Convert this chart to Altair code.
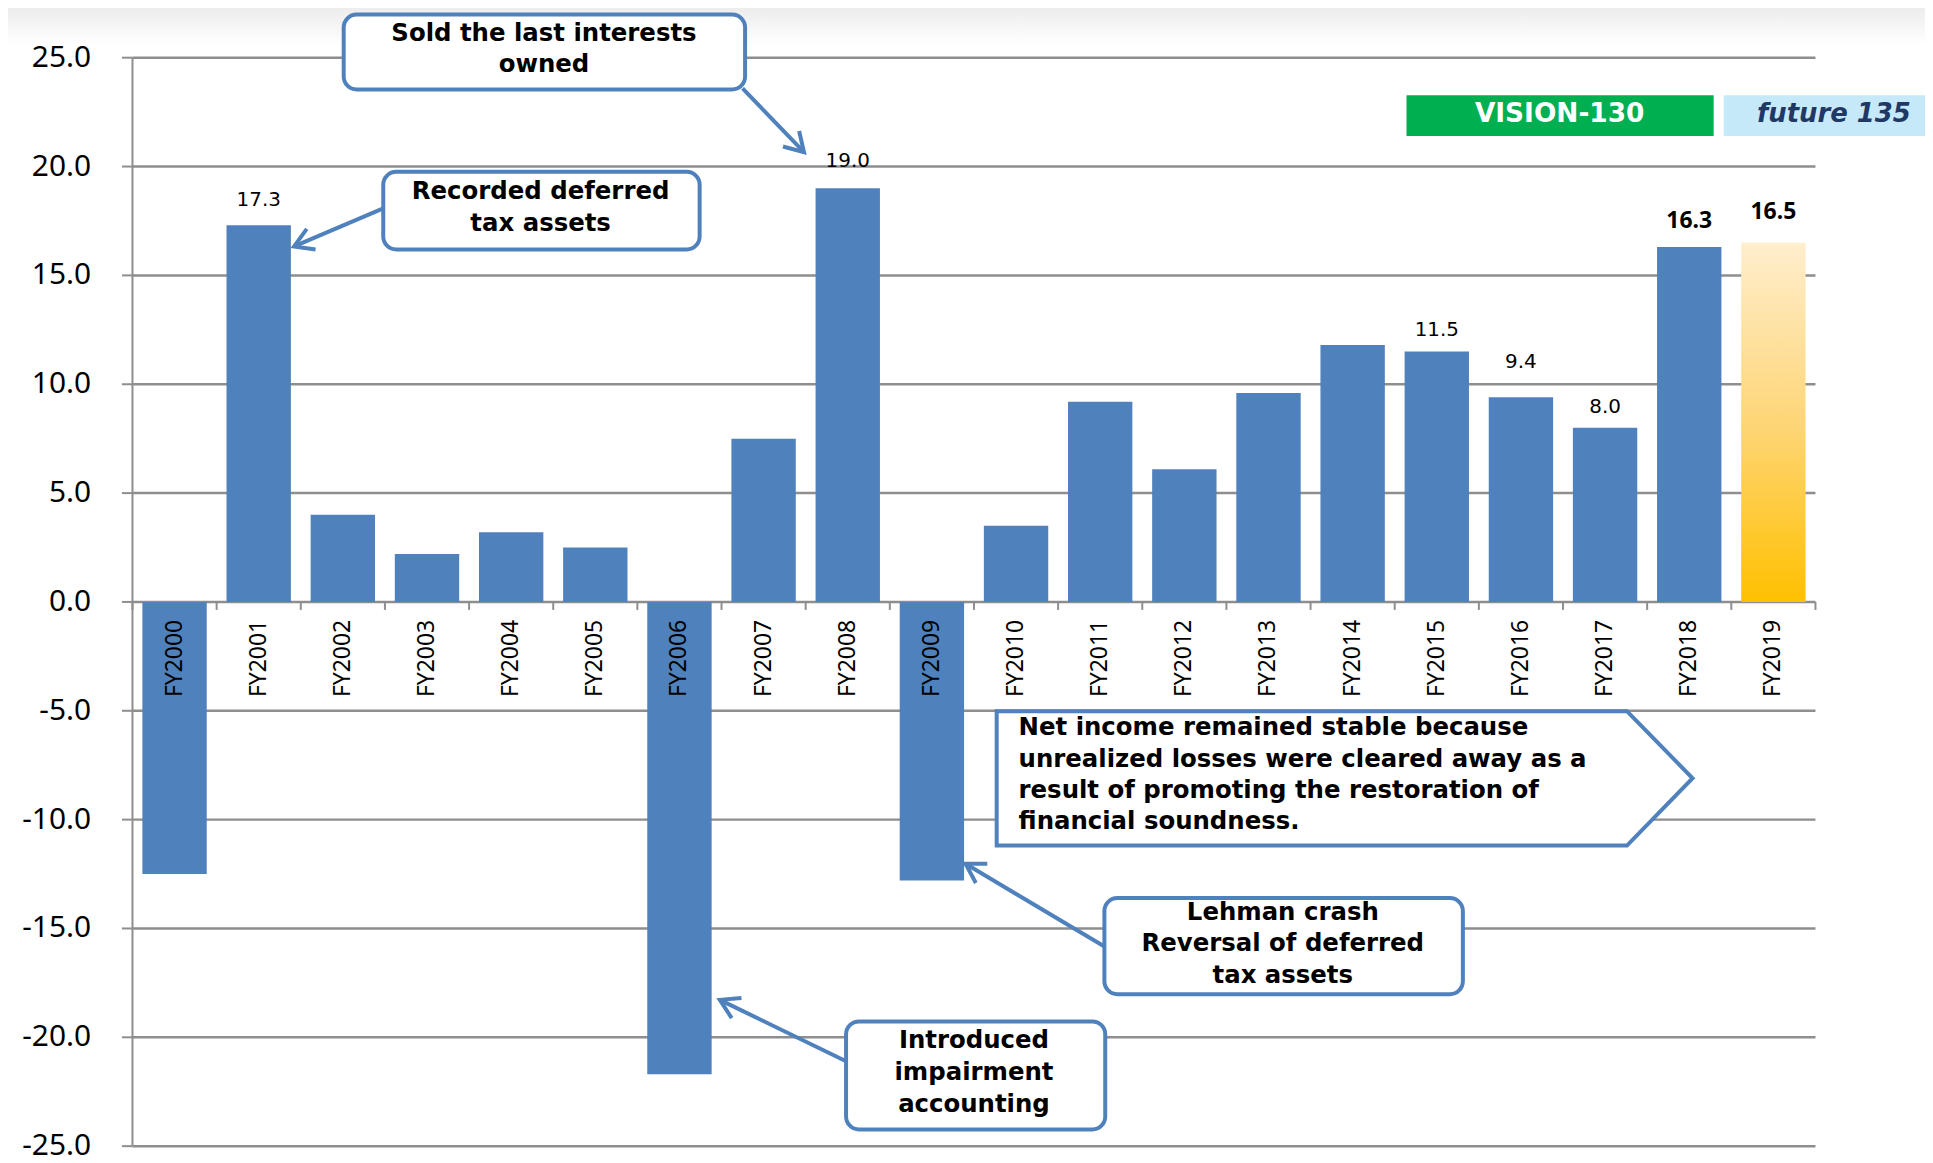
import math
import altair as alt
import pandas as pd

# ------------------------------------------------------------------ data
years = ["FY2000", "FY2001", "FY2002", "FY2003", "FY2004", "FY2005", "FY2006",
         "FY2007", "FY2008", "FY2009", "FY2010", "FY2011", "FY2012", "FY2013",
         "FY2014", "FY2015", "FY2016", "FY2017", "FY2018", "FY2019"]
net_income = [-12.5, 17.3, 4.0, 2.2, 3.2, 2.5, -21.7, 7.5, 19.0, -12.8,
              3.5, 9.2, 6.1, 9.6, 11.8, 11.5, 9.4, 8.0, 16.3, 16.5]
forecast_year = "FY2019"
labelled_years = ["FY2001", "FY2008", "FY2015", "FY2016", "FY2017"]
labelled_years_bold = ["FY2018", "FY2019"]
y_ticks = [-25, -20, -15, -10, -5, 0, 5, 10, 15, 20, 25]
y_tick_labels = ["-25.0", "-20.0", "-15.0", "-10.0", "-5.0", "0.0",
                 "5.0", "10.0", "15.0", "20.0", "25.0"]

# callout texts
txt_sold = ["Sold the last interests", "owned"]
txt_recorded = ["Recorded deferred", "tax assets"]
txt_lehman = ["Lehman crash", "Reversal of deferred", "tax assets"]
txt_impair = ["Introduced", "impairment", "accounting"]
txt_stable = ["Net income remained stable because",
              "unrealized losses were cleared away as a",
              "result of promoting the restoration of",
              "financial soundness."]
banner_texts = ["VISION-130", "future 135"]

# ------------------------------------------------------------------ layout / style
W, H = 1690, 1093
N = len(years)
STEP = W / N             # px per category
PXU = H / 50.0           # px per value unit
BAR_PAD = 0.1175         # empty fraction of a category on each side of a bar
BLUE = "#4F81BD"
GRID = "#8E8E8E"
F_COND = "Noto Sans"
F_WIDE = "DejaVu Sans"
Y_TICK_PX = 10.6
X_TICK_PX = 8

# gap (px) between bar top and its value label
label_gap = {"FY2001": 25, "FY2008": 27, "FY2015": 22, "FY2016": 35,
             "FY2017": 21, "FY2018": 26, "FY2019": 31}

# annotation geometry, in data units (x: category index units 0..20, y: value units)
rounded_boxes = [
    dict(x=2.51, x2=7.28, y=26.98, y2=23.54),
    dict(x=2.98, x2=6.74, y=19.76, y2=16.19),
    dict(x=11.55, x2=15.81, y=-13.60, y2=-18.02),
    dict(x=8.48, x2=11.56, y=-19.27, y2=-24.23),
]
pentagon = dict(x=[10.27, 17.76, 18.54], top=[-5.02, -5.02, -8.10],
                bottom=[-11.19, -11.19, -8.10])
center_text_pos = [
    (4.89, [26.07, 24.66], txt_sold),
    (4.85, [18.81, 17.34], txt_recorded),
    (13.67, [-14.27, -15.72, -17.17], txt_lehman),
    (10.00, [-20.16, -21.64, -23.12], txt_impair),
]
left_text_pos = (10.53, [-5.78, -7.26, -8.68, -10.12], txt_stable)
arrows = [  # tail x, tail y, tip x, tip y
    (7.25, 23.59, 7.98, 20.66),
    (2.98, 18.08, 1.92, 16.33),
    (11.55, -15.83, 9.90, -12.03),
    (8.48, -21.10, 6.98, -18.28),
]
banners = [
    dict(x=15.14, x2=18.79, cx=16.96, fill="#00B050"),
    dict(x=18.91, x2=21.45, cx=20.22, fill="#C6E9FA"),
]
banner_y = (23.27, 21.40, 22.43)

# ------------------------------------------------------------------ frames
bars_df = pd.DataFrame({"year": years, "i": list(range(N)), "value": net_income})
idx = {y: k for k, y in enumerate(years)}
val = dict(zip(years, net_income))


def label_frame(which):
    return pd.DataFrame({
        "x": [idx[y] + 0.5 for y in which],
        "ly": [val[y] + label_gap[y] / PXU for y in which],
        "t": [f"{val[y]:.1f}" for y in which],
    })


lab_df = label_frame(labelled_years)
labb_df = label_frame(labelled_years_bold)
ytick_df = pd.DataFrame({"v": y_ticks, "t": y_tick_labels,
                         "x0": [0] * len(y_ticks), "x1": [N] * len(y_ticks),
                         "xt": [-Y_TICK_PX / STEP] * len(y_ticks)})
xtick_df = pd.DataFrame({"x": list(range(N + 1)), "y": [0] * (N + 1),
                         "y2": [-X_TICK_PX / PXU] * (N + 1)})
xlab_df = pd.DataFrame({"x": [k + 0.5 for k in range(N)], "y": [0] * N, "t": years})
yline_df = pd.DataFrame([dict(x=0, y=y_ticks[0], y2=y_ticks[-1])])

box_df = pd.DataFrame(rounded_boxes)
pent_df = pd.DataFrame({"x": pentagon["x"], "y": pentagon["top"], "y2": pentagon["bottom"]})
ct_rows = []
for cx, ys, lines in center_text_pos:
    for yy, t in zip(ys, lines):
        ct_rows.append(dict(x=cx, y=yy, t=t))
ct_df = pd.DataFrame(ct_rows)
lt_df = pd.DataFrame([dict(x=left_text_pos[0], y=yy, t=t)
                      for yy, t in zip(left_text_pos[1], left_text_pos[2])])
arr_df = pd.DataFrame([dict(x=a[0], y=a[1], x2=a[2], y2=a[3]) for a in arrows])
head_df = pd.DataFrame([
    dict(x=a[2], y=a[3],
         ang=math.degrees(math.atan2(-(a[3] - a[1]) * PXU, (a[2] - a[0]) * STEP)) % 360)
    for a in arrows])
ban_df = pd.DataFrame([dict(x=b["x"], x2=b["x2"], y=banner_y[0], y2=banner_y[1],
                            cx=b["cx"], cy=banner_y[2], t=t, fill=b["fill"])
                       for b, t in zip(banners, banner_texts)])
strip_df = pd.DataFrame([dict(x=-1.7, x2=21.5, y=27.7, y2=25.6)])

# ------------------------------------------------------------------ scales
YS = alt.Scale(domain=[-25, 25], nice=False, zero=False)
XS = alt.Scale(domain=[0, N], nice=False, zero=False)


def ya(field):
    return alt.Y(field, scale=YS, axis=None)


def xa(field="x:Q"):
    return alt.X(field, scale=XS, axis=None)


# ------------------------------------------------------------------ axes drawn from tick data
grid = alt.Chart(ytick_df).mark_rule(color=GRID, strokeWidth=2.5).encode(
    x=xa("x0:Q"), x2="x1:Q", y=ya("v:Q"))
yticks = alt.Chart(ytick_df).mark_rule(color=GRID, strokeWidth=2).encode(
    x=xa("xt:Q"), x2="x0:Q", y=ya("v:Q"))
ylabels = alt.Chart(ytick_df).mark_text(font=F_COND, fontSize=30, color="black",
                                        align="right", baseline="middle",
                                        dx=-(Y_TICK_PX + 31)).encode(
    x=xa("x0:Q"), y=ya("v:Q"), text="t:N")
yline = alt.Chart(yline_df).mark_rule(color=GRID, strokeWidth=2).encode(
    x=xa(), y=ya("y:Q"), y2="y2:Q")
xticks = alt.Chart(xtick_df).mark_rule(color=GRID, strokeWidth=2).encode(
    x=xa(), y=ya("y:Q"), y2="y2:Q")
xlabels = alt.Chart(xlab_df).mark_text(font=F_COND, fontSize=23, color="black",
                                       angle=270, align="right", baseline="middle",
                                       dx=-(X_TICK_PX + 10)).encode(
    x=xa(), y=ya("y:Q"), text="t:N")

# ------------------------------------------------------------------ bars
bar_base = alt.Chart(bars_df).transform_calculate(
    x0=f"datum.i + {BAR_PAD}", x1=f"datum.i + {1 - BAR_PAD}", base="0")

bars = bar_base.transform_filter(alt.datum.year != forecast_year).mark_rect(
    color=BLUE).encode(x=xa("x0:Q"), x2="x1:Q", y=ya("value:Q"), y2="base:Q")

grad = alt.LinearGradient(gradient="linear", x1=0, x2=0, y1=0, y2=1,
                          stops=[alt.GradientStop(color="#FFEECD", offset=0),
                                 alt.GradientStop(color="#FED678", offset=0.5),
                                 alt.GradientStop(color="#FFC000", offset=1)])
bar19 = bar_base.transform_filter(alt.datum.year == forecast_year).mark_rect(
    color=grad).encode(x=xa("x0:Q"), x2="x1:Q", y=ya("value:Q"), y2="base:Q")

labels = alt.Chart(lab_df).mark_text(font=F_WIDE, fontSize=20, color="black",
                                     align="center", baseline="middle").encode(
    x=xa(), y=ya("ly:Q"), text="t:N")
labels_b = alt.Chart(labb_df).mark_text(font=F_COND, fontSize=23, fontWeight="bold",
                                        color="black", align="center",
                                        baseline="middle").encode(
    x=xa(), y=ya("ly:Q"), text="t:N")

# ------------------------------------------------------------------ annotations
strip = alt.Chart(strip_df).mark_rect(
    color=alt.LinearGradient(gradient="linear", x1=0, x2=0, y1=0, y2=1,
                             stops=[alt.GradientStop(color="#E8E8E8", offset=0),
                                    alt.GradientStop(color="#FFFFFF", offset=1)])
).encode(x=xa(), x2="x2:Q", y=ya("y:Q"), y2="y2:Q")

arrow_lines = alt.Chart(arr_df).mark_rule(color=BLUE, strokeWidth=4).encode(
    x=xa(), x2="x2:Q", y=ya("y:Q"), y2="y2:Q")

CHEVRON = "M -1 -0.6 L 0 0 L -1 0.6"
heads = alt.Chart(head_df).mark_point(shape=CHEVRON, filled=False, size=1400,
                                      strokeWidth=4, color=BLUE, opacity=1,
                                      strokeJoin="miter").encode(
    x=xa(), y=ya("y:Q"), angle=alt.Angle("ang:Q", scale=None))

boxes = alt.Chart(box_df).mark_rect(fill="white", stroke=BLUE, strokeWidth=4,
                                    cornerRadius=13).encode(
    x=xa(), x2="x2:Q", y=ya("y:Q"), y2="y2:Q")

pent = alt.Chart(pent_df).mark_area(fill="white", stroke=BLUE, strokeWidth=4,
                                    opacity=1, strokeJoin="miter").encode(
    x=xa(), y=ya("y:Q"), y2="y2:Q")

ctext = alt.Chart(ct_df).mark_text(font=F_WIDE, fontSize=24.5, fontWeight="bold",
                                   color="black", align="center",
                                   baseline="middle").encode(
    x=xa(), y=ya("y:Q"), text="t:N")
ltext = alt.Chart(lt_df).mark_text(font=F_WIDE, fontSize=24.5, fontWeight="bold",
                                   color="black", align="left",
                                   baseline="middle").encode(
    x=xa(), y=ya("y:Q"), text="t:N")

ban_rect = alt.Chart(ban_df).mark_rect().encode(
    x=xa(), x2="x2:Q", y=ya("y:Q"), y2="y2:Q",
    color=alt.Color("fill:N", scale=None))
ban_t1 = alt.Chart(ban_df).transform_filter(alt.datum.t == banner_texts[0]).mark_text(
    font=F_WIDE, fontSize=26.5, fontWeight="bold", color="white",
    align="center", baseline="middle").encode(x=xa("cx:Q"), y=ya("cy:Q"), text="t:N")
ban_t2 = alt.Chart(ban_df).transform_filter(alt.datum.t == banner_texts[1]).mark_text(
    font=F_WIDE, fontSize=26, fontWeight="bold", fontStyle="italic", color="#1F3864",
    align="center", baseline="middle").encode(x=xa("cx:Q"), y=ya("cy:Q"), text="t:N")

chart = alt.layer(
    strip, grid, yline, yticks, ylabels, xticks,
    bars, bar19, xlabels, labels, labels_b,
    arrow_lines, heads, boxes, pent, ctext, ltext, ban_rect, ban_t1, ban_t2,
).properties(
    width=W, height=H,
    autosize=alt.AutoSizeParams(type="none"),
    padding={"left": 125, "top": 47.5, "right": 110, "bottom": 14.5},
    background="white",
).configure_view(stroke=None)

chart.save("out.html", embed_options={"renderer": "svg", "actions": False})
